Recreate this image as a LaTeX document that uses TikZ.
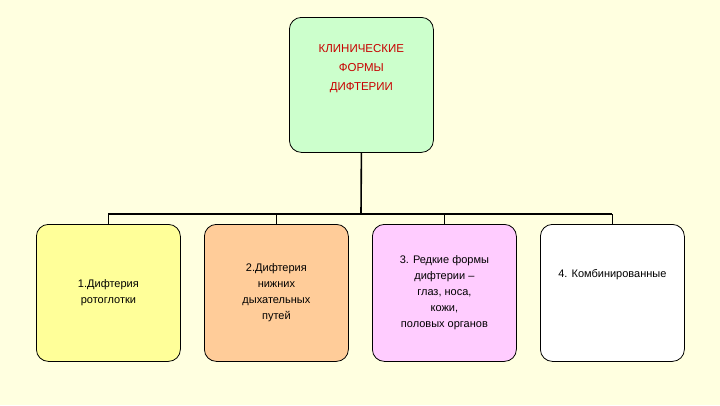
\documentclass[tikz,border=0pt]{standalone}
\usepackage{fontspec}
\setmainfont{Liberation Sans}
\begin{document}
\begin{tikzpicture}[x=1pt,y=-1pt,
  box/.style={draw=black,line width=0.8pt,rounded corners=12pt,anchor=north west,align=center,font=\fontsize{11}{16}\selectfont},
  conn/.style={line width=1.6pt}]
\fill[fill={rgb,255:red,255;green,255;blue,224}] (0,0) rectangle (720,405);
\useasboundingbox (0,0) rectangle (720,405);
\node[box,fill={rgb,255:red,204;green,255;blue,204},minimum width=144pt,minimum height=135pt,text={rgb,255:red,200;green,0;blue,0},font=\fontsize{11.5}{19}\selectfont] (top) at (289,17) {КЛИНИЧЕСКИЕ\\ФОРМЫ\\ДИФТЕРИИ\\[16pt]};
\node[box,fill={rgb,255:red,255;green,255;blue,153},minimum width=144pt,minimum height=137pt] (a) at (36,224) {1.Дифтерия\\ротоглотки};
\node[box,fill={rgb,255:red,255;green,204;blue,153},minimum width=144pt,minimum height=137pt] (b) at (204,224) {2.Дифтерия\\нижних\\дыхательных\\путей};
\node[box,fill={rgb,255:red,255;green,204;blue,255},minimum width=144pt,minimum height=137pt] (c) at (372,224) {3. Редкие формы\\дифтерии –\\глаз, носа,\\кожи,\\половых органов};
\node[box,fill=white,minimum width=144pt,minimum height=137pt] (d) at (540,224) {4. Комбинированные\\[22pt]};
\coordinate (j) at (361,214);
\draw[conn] (top.south) -- (j);
\draw[conn] (a.north|-j) -- (d.north|-j);
\foreach \n in {a,b,c,d} \draw[conn] (\n.north|-j) -- (\n.north);
\end{tikzpicture}
\end{document}
